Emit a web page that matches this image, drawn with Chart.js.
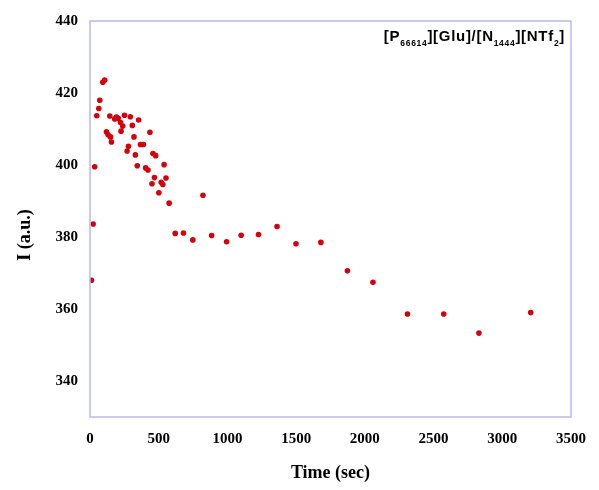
<!DOCTYPE html>
<html>
<head>
<meta charset="utf-8">
<script src="https://cdn.jsdelivr.net/npm/chart.js@4"></script>
<style>
  html, body { margin: 0; padding: 0; background: #fff; }
  #wrap { width: 599px; height: 490px; position: relative; }
</style>
</head>
<body>
<div id="wrap"><canvas id="decayChart"></canvas></div>
<script>
// fluorescence intensity vs time
const timeSec = [11, 23, 34, 49, 64, 71, 93, 107, 120, 132, 144, 149, 156, 180, 192, 205, 222, 238, 226, 251,
  270, 280, 293, 308, 320, 330, 344, 354, 367, 389, 405, 422, 436, 451, 458, 478, 469, 501, 518, 530,
  539, 553, 576, 620, 680, 748, 822, 885, 994, 1100, 1226, 1361, 1499, 1680, 1873, 2059, 2310, 2574, 2830, 3207];
const intensity = [368, 383.6, 399.5, 413.7, 415.7, 418, 423, 423.6, 409.2, 408.4, 413.6, 407.8, 406.4, 412.8, 413.3, 413, 411.8, 410.8, 409.4, 413.8,
  403.9, 405.2, 413.4, 411, 407.8, 402.8, 399.8, 412.5, 405.7, 405.7, 399.2, 398.6, 409.1, 394.8, 403.2, 402.6, 396.5, 392.3, 395.2, 394.6,
  400.1, 396.4, 389.4, 381, 381.1, 379.2, 391.6, 380.4, 378.7, 380.5, 380.7, 382.9, 378.1, 378.5, 370.6, 367.4, 358.6, 358.6, 353.3, 359];

const xTicks = [0, 500, 1000, 1500, 2000, 2500, 3000, 3500];
const yTicks = [340, 360, 380, 400, 420, 440];

const xTitle = "Time (sec)";
const yTitle = "I (a.u.)";
// sample label, [text, isSubscript]
const sampleLabel = [["[P", false], ["66614", true], ["][Glu]/[N", false], ["1444", true], ["][NTf", false], ["2", true], ["]", false]];

const points = timeSec.map((t, i) => ({ x: t, y: intensity[i] }));

const frameAndText = {
  id: "frameAndText",
  afterDraw(chart) {
    const ctx = chart.ctx;
    const a = chart.chartArea;
    ctx.save();
    ctx.strokeStyle = "rgb(184,184,240)";
    ctx.lineWidth = 1.5;
    ctx.strokeRect(a.left, a.top, a.right - a.left, a.bottom - a.top);

    // y title
    ctx.fillStyle = "#000";
    ctx.font = "bold 18px 'Liberation Serif'";
    ctx.textAlign = "center";
    ctx.textBaseline = "middle";
    ctx.translate(25, 235);
    ctx.rotate(-Math.PI / 2);
    ctx.fillText(yTitle, 0, 0);
    ctx.restore();

    // sample label top right
    ctx.save();
    ctx.fillStyle = "#000";
    ctx.textAlign = "left";
    ctx.textBaseline = "alphabetic";
    ctx.letterSpacing = "0.7px";
    const mainFont = "bold 15px 'Liberation Sans'";
    const subFont = "bold 8.5px 'Liberation Sans'";
    let total = 0;
    sampleLabel.forEach(([s, sub]) => {
      ctx.font = sub ? subFont : mainFont;
      total += ctx.measureText(s).width;
    });
    let x = a.right - 6 - total;
    sampleLabel.forEach(([s, sub]) => {
      ctx.font = sub ? subFont : mainFont;
      ctx.fillText(s, x, sub ? 46 : 41);
      x += ctx.measureText(s).width;
    });
    ctx.restore();
  }
};

new Chart(document.getElementById("decayChart"), {
  type: "scatter",
  data: {
    datasets: [{
      data: points,
      backgroundColor: "rgb(212,0,12)",
      borderWidth: 0,
      pointRadius: 2.8,
    }],
  },
  options: {
    responsive: true,
    maintainAspectRatio: false,
    animation: false,
    layout: { padding: { top: 16, right: 24.5, bottom: 0, left: 0 } },
    plugins: { legend: { display: false }, tooltip: { enabled: false } },
    scales: {
      x: {
        type: "linear",
        min: 0,
        max: 3500,
        afterBuildTicks: (s) => { s.ticks = xTicks.map(v => ({ value: v })); },
        afterFit: (s) => { s.height = 73; },
        grid: { display: false, drawTicks: false },
        border: { display: false },
        ticks: {
          padding: 13,
          color: "#000",
          maxRotation: 0,
          callback: (v) => String(v),
          font: { family: "'Liberation Serif'", size: 15, weight: "bold" },
        },
        title: {
          display: true,
          text: xTitle,
          color: "#000",
          padding: { top: 0, bottom: 6 },
          font: { family: "'Liberation Serif'", size: 18, weight: "bold" },
        },
      },
      y: {
        min: 330,
        max: 440,
        afterBuildTicks: (s) => { s.ticks = yTicks.map(v => ({ value: v })); },
        afterFit: (s) => { s.width = 90; },
        grid: { display: false, drawTicks: false },
        border: { display: false },
        ticks: {
          padding: 12,
          color: "#000",
          callback: (v) => String(v),
          font: { family: "'Liberation Serif'", size: 15, weight: "bold" },
        },
      },
    },
  },
  plugins: [frameAndText],
});
</script>
</body>
</html>
